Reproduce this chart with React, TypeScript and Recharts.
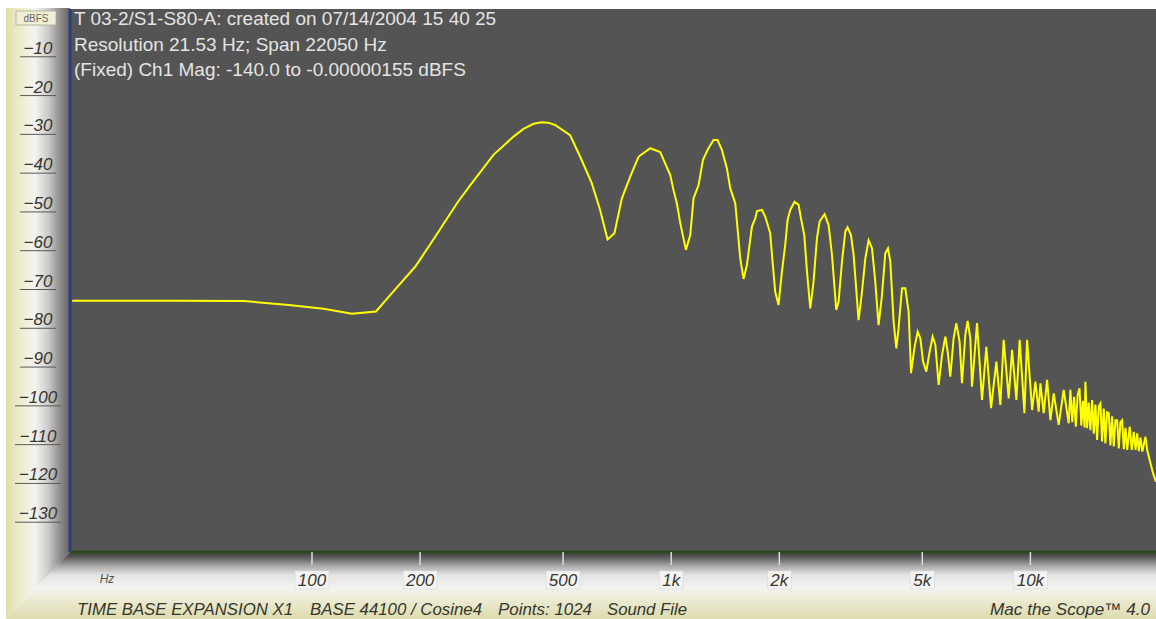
import React from "react";
import { LineChart, Line, XAxis, YAxis, CartesianGrid } from "recharts";

// spectrum, split in three bands (Hz / dBFS)
const lowHz = [21.5, 43.1, 64.6, 86.1, 107.7, 129.2, 150.7, 170, 194, 213, 255, 276, 320, 364, 388, 414, 436, 455, 475, 523, 558, 601, 634, 665, 695, 729, 769, 811, 874, 932, 994];
const lowDb = [-75.2, -75.2, -75.3, -76.3, -77.3, -78.6, -78.0, -72.4, -66.4, -60.8, -49.7, -45.4, -37.6, -32.9, -30.9, -29.6, -29.2, -29.3, -29.9, -32.5, -38.1, -44.9, -51.8, -59.4, -57.8, -48.8, -43.2, -38.1, -35.9, -36.9, -42.8];

const midHz = [1015, 1037, 1060, 1099, 1130, 1154, 1192, 1226, 1270, 1312, 1346, 1384, 1429, 1460, 1508, 1557, 1590, 1625, 1678, 1714, 1733, 1789, 1827, 1887, 1908, 1948, 1990, 2034, 2077, 2109, 2145, 2205, 2263, 2298, 2347, 2388, 2439, 2491, 2546, 2589, 2673, 2743, 2803, 2881, 2924, 2989, 3053, 3098, 3166, 3220, 3324, 3398, 3471, 3545, 3623, 3700, 3779, 3863, 3945, 4014, 4074, 4161, 4234, 4296, 4391, 4485, 4581, 4653, 4752, 4854, 4939];
const midDb = [-46.7, -50.1, -55.2, -62.1, -58.3, -48.8, -45.4, -38.9, -35.9, -33.8, -33.8, -36.3, -41.1, -46.2, -50.1, -64.3, -69.6, -66.0, -56.1, -54.0, -52.1, -51.8, -53.5, -57.8, -63.4, -72.9, -76.3, -67.7, -60.8, -54.4, -51.8, -49.7, -50.5, -54.0, -58.3, -67.7, -77.2, -70.3, -59.1, -54.8, -52.9, -55.7, -63.4, -77.6, -75.5, -65.1, -57.4, -56.3, -58.3, -63.4, -80.2, -72.9, -64.3, -59.6, -61.7, -70.3, -81.5, -73.7, -63.0, -61.7, -65.1, -80.6, -87.5, -82.3, -72.0, -72.0, -78.0, -93.9, -87.5, -83.2, -84.9];

const highHz = [5025, 5132, 5242, 5345, 5438, 5554, 5676, 5797, 5883, 5985, 6113, 6220, 6353, 6451, 6589, 6687, 6805, 6879, 7103, 7334, 7540, 7771, 8040, 8249, 8426, 8701, 8892, 9141, 9337, 9623, 9790, 10109, 10325, 10546, 10663, 10890, 11130, 11368, 11612, 11990, 12380, 12783, 12922,
  13080, 13230, 13380, 13540, 13700, 13860, 14010, 14150, 14228, 14380, 14530, 14690, 14853, 15010, 15170, 15336, 15500, 15668, 15830, 16003, 16170, 16340, 16525, 16700, 16890, 17060, 17250, 17441, 17621, 17810, 18006, 18200, 18392, 18600, 18907, 19150, 19398, 19620, 19827, 20040, 20251, 20500, 20910, 21140, 21592, 22000, 22370];
const highDb = [-90.9, -93.5, -88.3, -84.5, -86.6, -96.9, -89.2, -84.5, -88.3, -94.8, -84.9, -81.0, -85.8, -96.5, -84.0, -80.4, -84.9, -97.4, -81.0, -100.8, -87.1, -102.9, -90.9, -102.1, -85.3, -100.4, -87.9, -100.8, -85.3, -104.2, -85.3, -103.4, -96.1, -103.8, -96.5, -104.2, -95.6, -106.0, -99.1, -107.2, -98.2, -106.8, -98.2,
  -106.5, -100.0, -107.7, -99.5, -97.8, -107.4, -101.0, -107.9, -96.1, -108.1, -101.5, -108.6, -100.8, -109.5, -102.0, -111.1, -102.5, -101.7, -111.5, -103.0, -112.0, -104.0, -104.2, -112.5, -105.0, -112.8, -106.0, -106.0, -113.3, -106.5, -106.0, -113.5, -108.0, -113.7, -107.7, -113.7, -109.0, -113.7, -109.4, -114.0, -110.5, -114.1, -110.3, -113.7, -117.1, -120.0, -121.9];

const freqTicks = [100, 200, 500, 1000, 2000, 5000, 10000];
const freqTickLabels = ["100", "200", "500", "1k", "2k", "5k", "10k"];
const dbTicks = [-130, -120, -110, -100, -90, -80, -70, -60, -50, -40, -30, -20, -10];

const headerLines = [
  "T 03-2/S1-S80-A: created on 07/14/2004 15 40 25",
  "Resolution 21.53 Hz; Span 22050 Hz",
  "(Fixed) Ch1 Mag: -140.0 to -0.00000155 dBFS",
];
const footerItems = ["TIME BASE EXPANSION X1", "BASE 44100 / Cosine4", "Points: 1024", "Sound File"];
const brand = "Mac the Scope\u2122 4.0";

const allHz = [...lowHz, ...midHz, ...highHz];
const allDb = [...lowDb, ...midDb, ...highDb];
const data = allHz.map((f, i) => ({ f, db: allDb[i] }));

const W = 1156;
const H = 619;
const PLOT_LEFT = 70;
const PLOT_TOP = 9;
const PLOT_BOTTOM = 552;
const FONT = "'Liberation Sans', Arial, Helvetica, sans-serif";
const LABEL_INK = "#36362e";

function FreqTick({ x, payload }: any) {
  const i = freqTicks.indexOf(payload.value);
  const label = i >= 0 ? freqTickLabels[i] : String(payload.value);
  const w = label.length * 10 + 4;
  return (
    <g>
      <rect x={x - w / 2} y={PLOT_BOTTOM + 19} width={w} height={18} fill="#f3f3f3" stroke="#d6d6d6" strokeWidth={0.6} />
      <text x={x} y={PLOT_BOTTOM + 34} textAnchor="middle" fontFamily={FONT} fontStyle="italic" fontSize={17} fill={LABEL_INK}>
        {label}
      </text>
    </g>
  );
}

function DbTick({ y, payload }: any) {
  const label = "\u2212" + Math.abs(payload.value);
  const w = label.length * 10 + 6;
  return (
    <g>
      <text x={38} y={y + 6} textAnchor="middle" fontFamily={FONT} fontStyle="italic" fontSize={17} fill={LABEL_INK}>
        {label}
      </text>
      <line x1={38 - w / 2} x2={38 + w / 2} y1={y + 9} y2={y + 9} stroke="#5a5a55" strokeWidth={1} />
    </g>
  );
}

export default function App() {
  const footerX = [77, 310, 498, 607];
  const footerW = [216, 172, 94, 80];
  return (
    <div style={{ position: "relative", width: W, height: H, background: "#fff", overflow: "hidden" }}>
      <style>{"body{margin:0}"}</style>
      {/* left bevel panel */}
      <div
        style={{
          position: "absolute",
          left: 6,
          top: 8,
          width: 64,
          height: H - 8,
          clipPath: "polygon(0 0, 64px 0, 64px 544px, 0 611px)",
          background: "linear-gradient(to right, #e1dfa8 0%, #edecce 22%, #f4f4f1 45%, #cbcbcb 66%, #8c8888 86%, #686464 100%)",
        }}
      />
      {/* bottom bevel panel */}
      <div
        style={{
          position: "absolute",
          left: 6,
          top: PLOT_BOTTOM,
          width: W - 6,
          height: H - PLOT_BOTTOM,
          clipPath: "polygon(64px 0, 100% 0, 100% 100%, 0 100%)",
          background: "linear-gradient(to bottom, #3c3f39 0px, #575757 5px, #a9a9a9 14px, #e4e4e4 23px, #f3f3f1 36px, #ecebd3 48px, #dcdbae 67px)",
        }}
      />
      <div style={{ position: "absolute", left: 0, top: 0 }}>
        <LineChart width={W} height={H} data={data} margin={{ top: PLOT_TOP, right: 0, bottom: 0, left: 0 }}>
          <CartesianGrid fill="#545454" stroke="none" horizontal={false} vertical={false} />
          <XAxis
            dataKey="f"
            type="number"
            scale="log"
            domain={[21.2, 22370]}
            allowDataOverflow
            ticks={freqTicks}
            interval={0}
            height={H - PLOT_BOTTOM}
            tickSize={13}
            tickLine={{ stroke: "#dcdcdc", strokeWidth: 1.5 }}
            axisLine={{ stroke: "#2d4a1f", strokeWidth: 3 }}
            tick={<FreqTick />}
          />
          <YAxis
            type="number"
            domain={[-140, 0]}
            ticks={dbTicks}
            interval={0}
            width={PLOT_LEFT}
            tickLine={false}
            axisLine={{ stroke: "#2b3f7e", strokeWidth: 3 }}
            tick={<DbTick />}
          />
          <Line
            type="linear"
            dataKey="db"
            stroke="#ffff00"
            strokeWidth={2}
            dot={false}
            isAnimationActive={false}
          />
        </LineChart>
      </div>
      <svg width={W} height={H} style={{ position: "absolute", left: 0, top: 0, pointerEvents: "none" }}>
        {headerLines.map((t, i) => (
          <text key={t} x={74} y={25 + i * 25.5} fontFamily={FONT} fontSize={19} fill="#e4e4e4">
            {t}
          </text>
        ))}
        <rect x={16} y={11} width={40} height={14} fill="#f1f0d6" stroke="#a9a78a" strokeWidth={0.8} />
        <text x={36} y={22} textAnchor="middle" fontFamily={FONT} fontSize={10} fill="#6b6b60">
          dBFS
        </text>
        <text x={107} y={583} textAnchor="middle" fontFamily={FONT} fontStyle="italic" fontSize={12} fill="#55554e">
          Hz
        </text>
        {footerItems.map((t, i) => (
          <text
            key={t}
            x={footerX[i]}
            y={615}
            fontFamily={FONT}
            fontStyle="italic"
            fontSize={17}
            fill={LABEL_INK}
            textLength={footerW[i]}
            lengthAdjust="spacingAndGlyphs"
          >
            {t}
          </text>
        ))}
        <text x={990} y={615} fontFamily={FONT} fontStyle="italic" fontSize={17} fill={LABEL_INK} textLength={160} lengthAdjust="spacingAndGlyphs">
          {brand}
        </text>
      </svg>
    </div>
  );
}
